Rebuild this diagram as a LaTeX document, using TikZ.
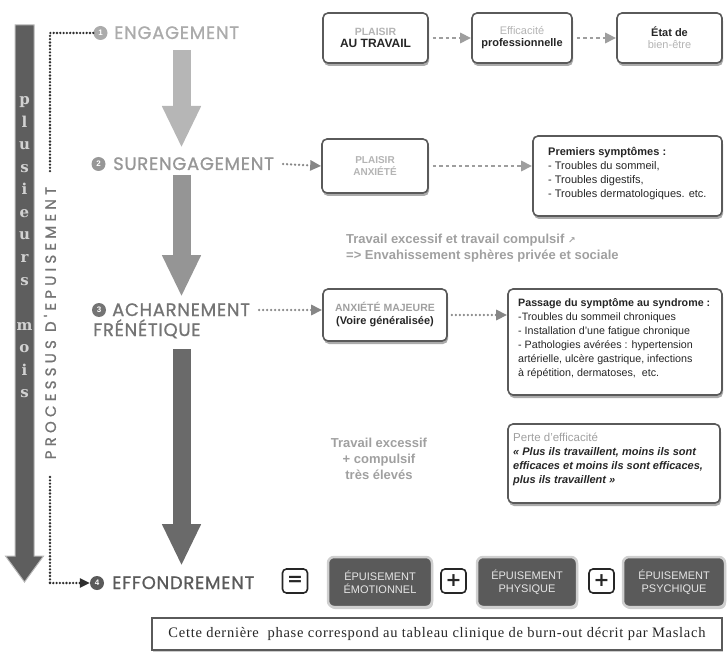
\documentclass[tikz,border=0pt]{standalone}
\usepackage{fontspec}
\setmainfont{Liberation Sans}
\newfontfamily\stepfont{Poppins}[FakeBold=1]
\newfontfamily\slabfont{DejaVu Serif}
\newfontfamily\symfont{DejaVu Sans}
\newfontfamily\capfont{Liberation Serif}[LetterSpace=5]
\usetikzlibrary{shadows,arrows.meta}
\definecolor{barfill}{HTML}{5E5E5E}
\definecolor{barline}{HTML}{B8B8B8}
\definecolor{barletter}{HTML}{D2D2D2}
\definecolor{dotdark}{HTML}{2E2E2E}
\definecolor{gA}{HTML}{ABABAB}
\definecolor{gB}{HTML}{979797}
\definecolor{gC}{HTML}{747474}
\definecolor{gD}{HTML}{5A5A5A}
\definecolor{arrA}{HTML}{B6B6B6}
\definecolor{arrB}{HTML}{959595}
\definecolor{arrC}{HTML}{6A6A6A}
\definecolor{boxline}{HTML}{5A5A5A}
\definecolor{txtdark}{HTML}{262626}
\definecolor{txtlight}{HTML}{B4B4B4}
\definecolor{txtmid}{HTML}{A0A0A0}
\definecolor{darkbox}{HTML}{5A5A5A}
\definecolor{darkboxline}{HTML}{CFCFCF}
\definecolor{darkboxtxt}{HTML}{E6E6E6}
\definecolor{connA}{HTML}{9E9E9E}
\definecolor{connB}{HTML}{868686}

\tikzset{
  stepnum/.style={circle, inner sep=0pt, minimum size=14pt, text=white, font=\bfseries\fontsize{8}{8}\selectfont},
  steplabel/.style={anchor=west, inner sep=0pt, text height=12pt, text depth=0pt, font=\stepfont\fontsize{18}{20}\selectfont\addfontfeatures{LetterSpace=4}},
  wbox/.style={draw=boxline, line width=1.6pt, rounded corners=5pt, fill=white, drop shadow={shadow xshift=1pt, shadow yshift=-3pt, fill=black!60, opacity=0.55}, inner sep=0pt, align=center},
  dbox/.style={draw=darkboxline, line width=2.5pt, rounded corners=6pt, fill=darkbox, drop shadow={shadow xshift=1pt, shadow yshift=-2pt, fill=black!40, opacity=0.5}, inner sep=0pt, align=center, text=darkboxtxt, font=\fontsize{11}{13}\selectfont},
  opbox/.style={draw=txtdark, line width=1.6pt, rounded corners=4pt, fill=white, minimum width=25pt, minimum height=24pt, inner sep=0pt, font=\symfont\bfseries\fontsize{19}{19}\selectfont, text=txtdark},
  bigarrow/.style={line width=18pt, -{Triangle[width=36pt, length=42pt]}},
  dotline/.style={dotdark, line width=2.6pt, line cap=round, dash pattern=on 0pt off 3.3pt},
  flowarrow/.style={connA, line width=2.6pt, dash pattern=on 3.5pt off 3pt, shorten <=4pt, -{Triangle[width=10pt,length=11pt]}},
  steparrow/.style={connB, line width=2.6pt, line cap=round, dash pattern=on 0pt off 4pt, -{Triangle[width=10pt,length=11pt]}},
  barletterstyle/.style={inner sep=0pt, anchor=base, text=barletter, font=\slabfont\bfseries\fontsize{15}{15}\selectfont},
  boxtext/.style={anchor=north west, align=left, inner sep=0pt, text=txtdark, font=\fontsize{11}{14}\selectfont},
}

\begin{document}
\begin{tikzpicture}[x=1pt,y=-1pt]
\useasboundingbox (0,0) rectangle (727,652);

% left time bar
\draw[fill=barfill, draw=barline, line width=1pt] (15,25) -- (34,25) -- (34,556) -- (43.5,556) -- (24.5,582) -- (5.5,556) -- (15,556) -- cycle;
\foreach \l/\yy [count=\k] in {p/105, l/127.5, u/150, s/172.5, i/195, e/217.5, u/240, r/262.5, s/285, m/330, o/352.5, i/375, s/397.5}
  \node[barletterstyle] (bl\k) at (24.5,\yy) {\l};

% vertical process label
\node[rotate=90, inner sep=0pt, text=gC, font=\stepfont\fontsize{15}{15}\selectfont\addfontfeatures{LetterSpace=28}] (proc) at (50,323) {PROCESSUS D'EPUISEMENT};

% steps
\node[stepnum, fill=gA] (n1) at (100.5,33) {1};
\node[steplabel, text=gA] (s1) at (114,33) {ENGAGEMENT};
\node[stepnum, fill=gB] (n2) at (98.5,164) {2};
\node[steplabel, text=gB] (s2) at (113,164) {SURENGAGEMENT};
\node[stepnum, fill=gC] (n3) at (99,310) {3};
\node[steplabel, text=gC] (s3) at (112,310) {ACHARNEMENT};
\node[steplabel, text=gC] (s3b) at (93,330) {FRÉNÉTIQUE};
\node[stepnum, fill=gD] (n4) at (97,583) {4};
\node[steplabel, text=gD] (s4) at (112,583) {EFFONDREMENT};

% dotted guide lines
\coordinate (dtop) at (50,33);
\coordinate (dtopend) at (50,172);
\draw[dotline] (n1.west) -- (dtop) -- (dtopend);
\coordinate (dbot) at (50,477);
\coordinate (dcorner) at (50,583);
\draw[dotline] (dbot) -- (dcorner);
\draw[dotline, -{Triangle[width=9pt,length=10pt]}] (dcorner) -- (n4.west);

% big arrows
\coordinate (a1s) at (181.5,50);  \coordinate (a1e) at (181.5,148);
\coordinate (a2s) at (181.5,175); \coordinate (a2e) at (181.5,297);
\coordinate (a3s) at (181.5,349); \coordinate (a3e) at (181.5,566);
\draw[bigarrow, arrA] (a1s) -- (a1e);
\draw[bigarrow, arrB] (a2s) -- (a2e);
\draw[bigarrow, arrC] (a3s) -- (a3e);

% row 1
\node[wbox, minimum width=105pt, minimum height=50pt] (bPlaisir) at (375.5,38)
  {{\color{txtlight}\fontsize{10.5}{12}\selectfont\bfseries PLAISIR}\\{\color{txtdark}\fontsize{12}{13}\selectfont\bfseries AU TRAVAIL}};
\node[wbox, minimum width=100pt, minimum height=50pt] (bEff) at (522,38)
  {{\color{txtlight}\fontsize{11}{12}\selectfont Efficacité}\\{\color{txtdark}\fontsize{11}{13}\selectfont\bfseries professionnelle}};
\node[wbox, minimum width=105pt, minimum height=50pt] (bEtat) at (669.5,38)
  {{\color{txtdark}\fontsize{11}{12}\selectfont\bfseries État de}\\{\color{txtlight}\fontsize{11}{13}\selectfont bien-être}};
\draw[flowarrow] (bPlaisir.east) -- (bEff.west);
\draw[flowarrow] (bEff.east) -- (bEtat.west);

% row 2
\node[wbox, minimum width=106pt, minimum height=54pt] (bPA) at (375,166)
  {{\color{txtlight}\fontsize{10}{12}\selectfont\bfseries PLAISIR}\\{\color{txtlight}\fontsize{10}{12}\selectfont\bfseries ANXIÉTÉ}};
\node[wbox, minimum width=189pt, minimum height=80pt] (bPrem) at (627.5,176) {};
\node[boxtext] (tPrem) at (548,147)
  {\textbf{Premiers symptômes :}\\- Troubles du sommeil,\\- Troubles digestifs,\\- Troubles dermatologiques. etc.};
\draw[steparrow] ([xshift=9pt]s2.east) -- (bPA.west);
\draw[flowarrow] (bPA.east) -- (bPA.east -| bPrem.west);

\node[anchor=west, align=left, inner sep=0pt, text=txtmid, font=\bfseries\fontsize{13}{16.5}\selectfont] (tExc) at (346,248)
  {Travail excessif et travail compulsif {\symfont\fontsize{9}{9}\selectfont ↗}\\=> Envahissement sphères privée et sociale};

% row 3
\node[wbox, minimum width=124pt, minimum height=52pt] (bAnx) at (385,315)
  {{\color{txtmid}\fontsize{10.5}{12}\selectfont\bfseries ANXIÉTÉ MAJEURE}\\[1pt]{\color{txtdark}\fontsize{11}{12}\selectfont\bfseries (Voire généralisée)}};
\node[wbox, minimum width=214pt, minimum height=106pt] (bPass) at (615,342) {};
\node[boxtext, font=\fontsize{10.7}{14}\selectfont] (tPass) at (518,298)
  {\textbf{Passage du symptôme au syndrome :}\\-Troubles du sommeil chroniques\\- Installation d'une fatigue chronique\\- Pathologies avérées : hypertension\\artérielle, ulcère gastrique, infections\\à répétition, dermatoses,\ \ etc.};
\draw[steparrow] ([xshift=9pt]s3.east) -- (s3.east -| bAnx.west);
\draw[steparrow] ([xshift=4pt]bAnx.east) -- (bAnx.east -| bPass.west);

% row 4
\node[align=center, inner sep=0pt, text=txtmid, font=\bfseries\fontsize{13}{16}\selectfont] (tTrav) at (379,459)
  {Travail excessif\\+ compulsif\\très élevés};
\node[wbox, minimum width=212pt, minimum height=79pt] (bPerte) at (614,463.5) {};
\node[boxtext] (tPerte) at (513,433)
  {{\color{txtmid}\fontsize{11.5}{14}\selectfont Perte d'efficacité}\\\textbf{\textit{« Plus ils travaillent, moins ils sont}}\\\textbf{\textit{efficaces et moins ils sont efficaces,}}\\\textbf{\textit{plus ils travaillent »}}};

% bottom equation
\node[opbox] (eq) at (295,581) {=};
\node[dbox, minimum width=104pt, minimum height=50pt] (bEmo) at (380,582) {ÉPUISEMENT\\ÉMOTIONNEL};
\node[opbox] (p1) at (453.5,581) {+};
\node[dbox, minimum width=100pt, minimum height=50pt] (bPhy) at (527,582) {ÉPUISEMENT\\PHYSIQUE};
\node[opbox] (p2) at (601.5,581) {+};
\node[dbox, minimum width=102pt, minimum height=50pt] (bPsy) at (674,582) {ÉPUISEMENT\\PSYCHIQUE};

\node[draw=boxline, line width=1.3pt, fill=white, minimum width=570pt, minimum height=32pt, inner sep=0pt, drop shadow={shadow xshift=1pt, shadow yshift=-2pt, fill=black!40, opacity=0.5}, font=\capfont\fontsize{14.5}{15}\selectfont, text=txtdark] (bMas) at (437,634)
  {Cette dernière\ \ phase correspond\ au tableau\ clinique de burn-out\ décrit par\ Maslach};
\end{tikzpicture}
\end{document}
